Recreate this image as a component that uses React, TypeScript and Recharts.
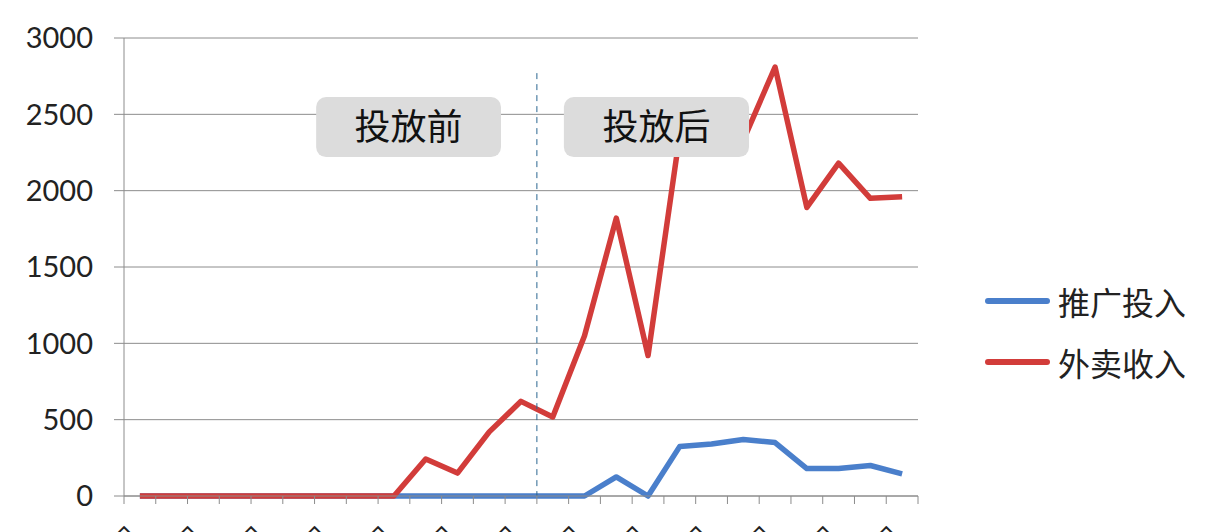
import React from 'react';
import { LineChart, Line, XAxis, YAxis, CartesianGrid, ReferenceLine, ReferenceArea, Legend } from 'recharts';

const categories = [0, 1, 2, 3, 4, 5, 6, 7, 8, 9, 10, 11, 12, 13, 14, 15, 16, 17, 18, 19, 20, 21, 22, 23, 24];
const promoSpend = [0, 0, 0, 0, 0, 0, 0, 0, 0, 0, 0, 0, 0, 0, 0, 125, 0, 325, 340, 370, 350, 180, 180, 200, 145];
const deliveryRevenue = [0, 0, 0, 0, 0, 0, 0, 0, 0, 242, 150, 420, 620, 518, 1050, 1820, 920, 2370, 2250, 2330, 2810, 1890, 2180, 1950, 1960];
const xTickLabels = ['1月1日', '1月3日', '1月5日', '1月7日', '1月9日', '1月11日', '1月13日', '1月15日', '1月17日', '1月19日', '1月21日', '1月23日', '1月25日'];
const yTicks = [0, 500, 1000, 1500, 2000, 2500, 3000];
const seriesNames = ['推广投入', '外卖收入'];
const phaseLabels = ['投放前', '投放后'];
const phaseBoundary = 12.5;
const phaseBoxes = [
  { x1: 5.55, x2: 11.37, y1: 2220, y2: 2613 },
  { x1: 13.35, x2: 19.18, y1: 2220, y2: 2613 },
];

const data = categories.map((c, i) => ({ idx: c, spend: promoSpend[i], revenue: deliveryRevenue[i] }));
const boundaryTicks = categories.map((c) => c - 0.5).concat([categories[categories.length - 1] + 0.5]);

const NUM_FONT = 'Lato, "Noto Sans", sans-serif';
const CJK_FONT = '"Noto Sans CJK SC", "Noto Sans", sans-serif';
const GRAY = '#8c8c8c';
const BLUE = '#4a7fcb';
const RED = '#d23c3a';

const XTick = (props: any) => {
  const { x, y, index } = props;
  if (index % 2 !== 0) return null;
  const label = xTickLabels[index / 2];
  if (!label) return null;
  return (
    <text
      transform={`translate(${x + 16},${y + 30}) rotate(-45)`}
      textAnchor="end"
      fontSize={24}
      fontFamily={CJK_FONT}
      fill="#222"
    >
      {label}
    </text>
  );
};

const BoxShape = (props: any) => {
  const { x, y, width, height } = props;
  return <rect x={x} y={y} width={width} height={height} rx={10} ry={10} fill="#dcdcdc" />;
};

const LegendContent = () => {
  const colors = [BLUE, RED];
  return (
    <div>
      {seriesNames.map((n, i) => (
        <div key={n} style={{ display: 'flex', alignItems: 'center', height: 61 }}>
          <div style={{ width: 65, height: 6, borderRadius: 3, background: colors[i], marginRight: 8 }} />
          <span style={{ fontSize: 32, fontFamily: CJK_FONT, color: '#222', lineHeight: 1 }}>{n}</span>
        </div>
      ))}
    </div>
  );
};

export default function App() {
  return (
    <LineChart width={1222} height={524} data={data} margin={{ top: 30, right: 312, bottom: 0, left: 0 }}>
      <CartesianGrid vertical={false} stroke={GRAY} strokeWidth={1} />
      <XAxis
        dataKey="idx"
        type="number"
        domain={[-0.5, 24.5]}
        ticks={boundaryTicks}
        interval={0}
        height={36}
        tickSize={8}
        stroke={GRAY}
        tick={<XTick />}
        allowDecimals
      />
      <YAxis
        domain={[0, 3000]}
        ticks={yTicks}
        width={116}
        tickSize={10}
        tickMargin={21}
        stroke={GRAY}
        tick={{ fill: '#222', fontSize: 29, fontFamily: NUM_FONT }}
      />
      <Line
        name={seriesNames[0]}
        dataKey="spend"
        stroke={BLUE}
        strokeWidth={5.5}
        dot={false}
        activeDot={false}
        strokeLinejoin="round"
        isAnimationActive={false}
      />
      <Line
        name={seriesNames[1]}
        dataKey="revenue"
        stroke={RED}
        strokeWidth={5.5}
        dot={false}
        activeDot={false}
        strokeLinejoin="round"
        isAnimationActive={false}
      />
      <ReferenceLine
        segment={[{ x: phaseBoundary, y: 2770 }, { x: phaseBoundary, y: 0 }]}
        stroke="#2a6690"
        strokeDasharray="6 5"
        strokeWidth={1}
      />
      {phaseBoxes.map((b, i) => (
        <ReferenceArea
          key={i}
          x1={b.x1}
          x2={b.x2}
          y1={b.y1}
          y2={b.y2}
          fillOpacity={1}
          ifOverflow="visible"
          shape={<BoxShape />}
          zIndex={1000}
          label={{ value: phaseLabels[i], position: 'center', fontSize: 36, fill: '#111', fontFamily: CJK_FONT }}
        />
      ))}
      <Legend
        layout="vertical"
        align="center"
        verticalAlign="middle"
        content={<LegendContent />}
        wrapperStyle={{ position: 'absolute', left: 977, top: 262, width: 240 }}
      />
    </LineChart>
  );
}
